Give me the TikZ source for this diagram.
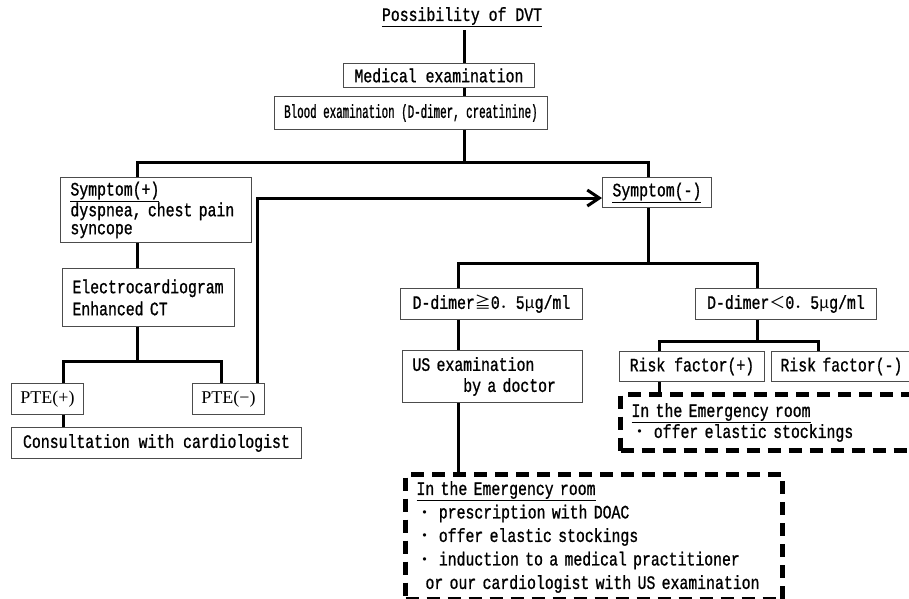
\documentclass[tikz,border=0pt]{standalone}
\usepackage{fontspec}
\usetikzlibrary{arrows.meta}
\newfontfamily\mfont[FakeStretch=0.78,FakeBold=1]{Liberation Mono}
\newfontfamily\mfontn[FakeStretch=0.57,FakeBold=1]{Liberation Mono}
\newfontfamily\serfont{Liberation Serif}
\newfontfamily\cjkfont{Noto Sans CJK JP}
\newcommand\cj[1]{{\cjkfont\fontsize{16}{16}\selectfont #1}}
\tikzset{
  mono/.style={font=\mfont\fontsize{19}{22}\selectfont},
  cbox/.style={mono, draw=black!70, line width=0.9pt, anchor=north west, inner sep=0pt, align=center},
  lbox/.style={mono, draw=black!70, line width=0.9pt, anchor=north west, inner xsep=10pt, inner ysep=0pt, align=left},
  erbox/.style={mono, draw=black, line width=5pt, dash pattern=on 13pt off 8pt, anchor=north west, inner xsep=11pt, inner ysep=0pt, align=left},
  conn/.style={draw=black, line width=3pt, line join=miter},
}
\begin{document}
\begin{tikzpicture}[x=1pt, y=-1pt]
\useasboundingbox (0,0) rectangle (909,598);

\node[mono, inner sep=3pt] (title) at (462,17) {\underline{Possibility of DVT}};
\node[cbox, minimum width=191pt, minimum height=24pt] (med) at (343,63) {Medical examination};
\node[cbox, minimum width=273pt, minimum height=33pt, font=\mfontn\fontsize{19}{22}\selectfont] (blood) at (274,96) {Blood examination (D-dimer, creatinine)};

\node[lbox, text width=171pt, minimum height=65pt, font=\mfont\fontsize{19}{18}\selectfont] (sympP) at (60,177)
  {\underline{Symptom(+)}\\dyspnea, chest pain\\syncope};
\node[lbox, text width=152pt, minimum height=58pt] (ecg) at (62,268)
  {Electrocardiogram\\Enhanced CT};
\node[cbox, minimum width=72pt, minimum height=31pt, font=\serfont\fontsize{18}{20}\selectfont] (pteP) at (11,383) {PTE(+)};
\node[cbox, minimum width=72pt, minimum height=31pt, font=\serfont\fontsize{18}{20}\selectfont] (pteM) at (192,383) {PTE(−)};
\node[cbox, minimum width=290pt, minimum height=31pt] (cons) at (11,427) {Consultation with cardiologist};

\node[cbox, minimum width=109pt, minimum height=30pt] (sympM) at (602,177) {\underline{Symptom(-)}};
\node[cbox, minimum width=182pt, minimum height=31pt] (ddH) at (400,288) {D-dimer\cj{≧}0\cj{．}5\cj{μ}g/ml};
\node[cbox, minimum width=181pt, minimum height=31pt] (ddL) at (695,288) {D-dimer\cj{＜}0\cj{．}5\cj{μ}g/ml};
\node[lbox, text width=160pt, minimum height=52pt, font=\mfont\fontsize{19}{21}\selectfont] (us) at (402,350)
  {US examination\\\phantom{US exa}by a doctor};
\node[cbox, minimum width=145pt, minimum height=30pt] (rfP) at (619,351) {Risk factor(+)};
\node[lbox, inner xsep=9pt, text width=126pt, minimum height=30pt] (rfM) at (771,351) {Risk factor(-)};

\node[erbox, text width=275pt, minimum height=56pt, font=\mfont\fontsize{19}{21}\selectfont] (er2) at (618,392)
  {\underline{In the Emergency room}\\\cj{・} offer elastic stockings};
\node[erbox, text width=355pt, minimum height=125pt, font=\mfont\fontsize{19}{23.5}\selectfont] (er1) at (403,472)
  {\underline{In the Emergency room}\\
   \cj{・} prescription with DOAC\\
   \cj{・} offer elastic stockings\\
   \cj{・} induction to a medical practitioner\\
   \hspace*{9pt}or our cardiologist with US examination};

% junction points
\coordinate (b1) at (464,162);
\coordinate (bL) at (137,162);
\coordinate (bR) at (648,162);
\coordinate (c1) at (137,361);
\coordinate (cL) at (63,361);
\coordinate (cR) at (221,361);
\coordinate (r1) at (257,198);
\coordinate (d1) at (648,263);
\coordinate (dL) at (458,263);
\coordinate (dR) at (757,263);
\coordinate (e1) at (757,341);
\coordinate (eL) at (659,341);
\coordinate (eR) at (818,341);

\draw[conn] (b1 |- title.south) -- (b1 |- med.north);
\draw[conn] (b1 |- med.south) -- (b1 |- blood.north);
\draw[conn] (b1 |- blood.south) -- (b1);
\draw[conn] (bL |- sympP.north) -- (bL) -- (bR) -- (bR |- sympM.north);
\draw[conn] (bL |- sympP.south) -- (bL |- ecg.north);
\draw[conn] (bL |- ecg.south) -- (c1);
\draw[conn] (cL |- pteP.north) -- (cL) -- (cR) -- (cR |- pteM.north);
\draw[conn] (cL |- pteP.south) -- (cL |- cons.north);
\draw[conn, -{Straight Barb[length=12pt,width=16pt]}] (r1 |- pteM.north) -- (r1) -- (r1 -| sympM.west);
\draw[conn] (bR |- sympM.south) -- (d1);
\draw[conn] (dL |- ddH.north) -- (dL) -- (dR) -- (dR |- ddL.north);
\draw[conn] (dL |- ddH.south) -- (dL |- us.north);
\draw[conn] (dL |- us.south) -- (dL |- er1.north);
\draw[conn] (dR |- ddL.south) -- (e1);
\draw[conn] (eL |- rfP.north) -- (eL) -- (eR) -- (eR |- rfM.north);
\draw[conn] (eL |- rfP.south) -- (eL |- er2.north);
\end{tikzpicture}
\end{document}
